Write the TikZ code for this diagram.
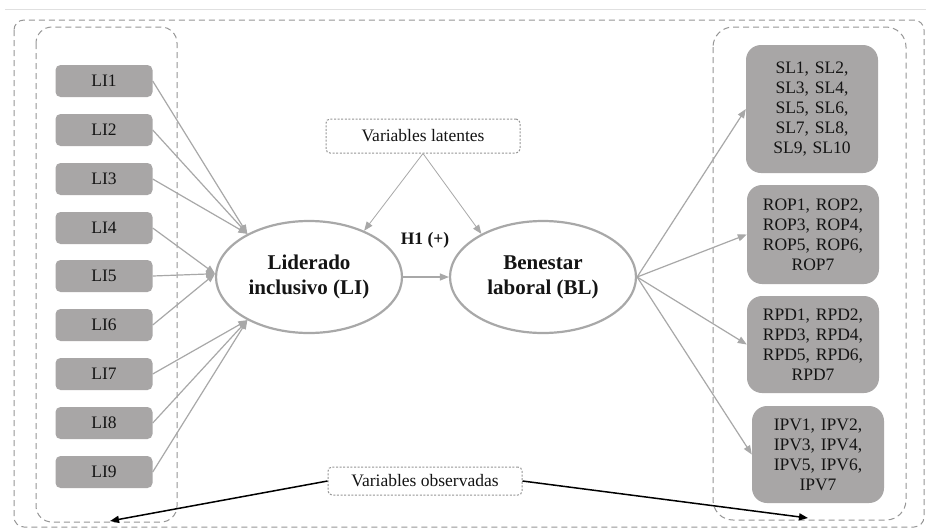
\documentclass[tikz,border=0pt]{standalone}
\usepackage{fontspec}
\setmainfont{Liberation Serif}
\usetikzlibrary{arrows.meta,shapes.geometric}
\definecolor{boxfill}{RGB}{168,166,166}
\definecolor{linegray}{RGB}{168,168,168}
\definecolor{dashgray}{RGB}{150,150,150}
\definecolor{txt}{RGB}{20,20,20}
\begin{document}
\begin{tikzpicture}[x=1pt,y=-1pt,
  libox/.style={fill=boxfill,rounded corners=5pt,minimum width=97pt,minimum height=32pt,inner sep=0pt,font=\fontsize{17.5}{20}\selectfont,text=txt},
  rbox/.style={fill=boxfill,rounded corners=15pt,text width=128pt,align=center,inner sep=2pt,font=\fontsize{17.5}{20}\selectfont,text=txt},
  latent/.style={ellipse,draw=linegray,line width=2.2pt,minimum width=186pt,minimum height=112pt,align=center,inner sep=0pt,font=\bfseries\fontsize{21}{25}\selectfont,text=txt},
  garrow/.style={draw=linegray,line width=1.2pt,-{Triangle[length=9pt,width=7pt]}},
  karrow/.style={draw=black,line width=1.5pt,-{Triangle[length=9pt,width=7pt]}},
  groupbox/.style={draw=dashgray,line width=1pt,dash pattern=on 6pt off 4pt},
  labelbox/.style={draw=dashgray,line width=1pt,dash pattern=on 2pt off 1.6pt,rounded corners=4pt,inner sep=0pt,font=\fontsize{17.5}{20}\selectfont,text=txt}
]
\useasboundingbox (0,0) rectangle (926,531);
\fill[white] (0,0) rectangle (926,531);
\draw[black!12,line width=1pt] (5,9) -- (926,9);
% group boxes
\draw[groupbox,rounded corners=10pt] (14,20) rectangle (924,527);
\draw[groupbox,rounded corners=16pt] (36,27) rectangle (177,522);
\draw[groupbox,rounded corners=20pt] (713,27) rectangle (906,520);
% LI boxes
\foreach \i/\y in {1/81,2/130,3/179,4/228,5/276,6/325,7/374,8/423,9/472}{
  \node[libox] (li\i) at (104,\y) {LI\i};
}
% latent variables
\node[latent] (li) at (309,277) {Liderado\\inclusivo (LI)};
\node[latent] (bl) at (543,277) {Benestar\\laboral (BL)};
% right boxes
\node[rbox,minimum height=128pt] (sl) at (812,109) {SL1, SL2,\\SL3, SL4,\\SL5, SL6,\\SL7, SL8,\\SL9, SL10};
\node[rbox,minimum height=99pt] (rop) at (813,234.5) {ROP1, ROP2,\\ROP3, ROP4,\\ROP5, ROP6,\\ROP7};
\node[rbox,minimum height=97pt] (rpd) at (813,344.5) {RPD1, RPD2,\\RPD3, RPD4,\\RPD5, RPD6,\\RPD7};
\node[rbox,minimum height=97pt] (ipv) at (818,454.5) {IPV1, IPV2,\\IPV3, IPV4,\\IPV5, IPV6,\\IPV7};
% label boxes
\node[labelbox,minimum width=194pt,minimum height=34pt] (vl) at (423,136) {Variables latentes};
\node[labelbox,minimum width=194pt,minimum height=28pt] (vo) at (425,481) {Variables observadas};
\node[font=\bfseries\fontsize{17.5}{20}\selectfont,text=txt] (h1) at (425,240) {H1 (+)};
% arrows into LI
\foreach \i in {1,2,3}{\draw[garrow] (li\i.east) -- (li.145);}
\foreach \i in {4,5,6}{\draw[garrow] (li\i.east) -- (li.178);}
\foreach \i in {7,8,9}{\draw[garrow] (li\i.east) -- (li.215);}
% structural path
\draw[garrow] (li.east) -- (bl.west);
% BL to indicators
\foreach \n in {sl,rop,rpd,ipv}{\draw[garrow] (bl.east) -- (\n.west);}
% latent label arrows
\draw[garrow,line width=0.8pt] (vl.south) -- (li.40);
\draw[garrow,line width=0.8pt] (vl.south) -- (bl.145);
% observed label arrows
\coordinate (obsL) at (110,521);
\coordinate (obsR) at (808,518);
\draw[karrow] (vo.west) -- (obsL);
\draw[karrow] (vo.east) -- (obsR);
\end{tikzpicture}
\end{document}
